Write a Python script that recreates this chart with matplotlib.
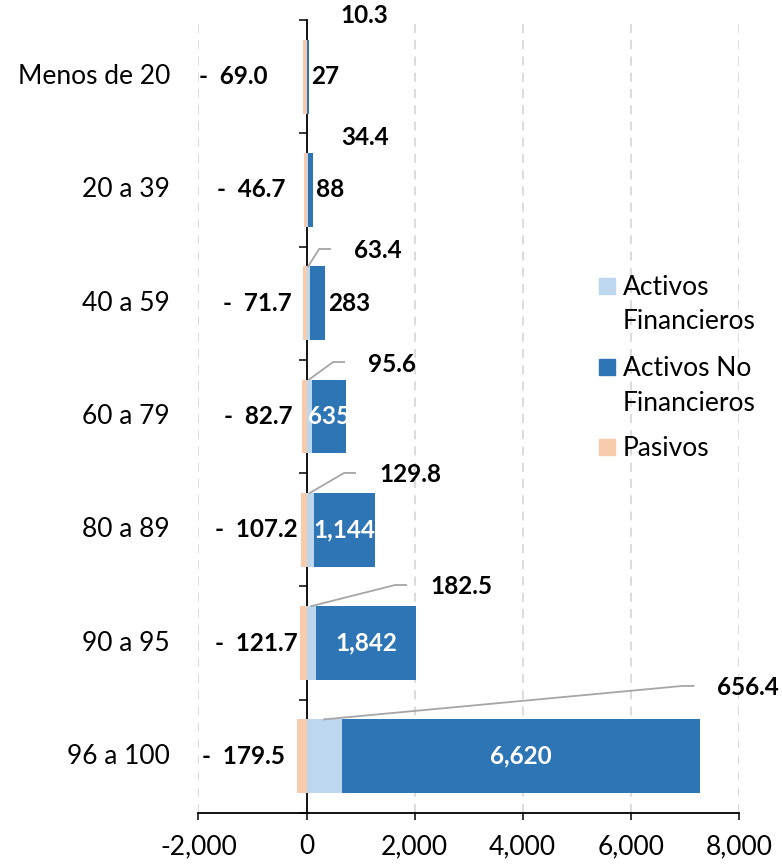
import numpy as np
import matplotlib.pyplot as plt
import matplotlib.transforms as mtransforms
from matplotlib.patches import Rectangle

plt.rcParams['font.family'] = ['Lato', 'DejaVu Sans']

# datos
categorias = ["Menos de 20", "20 a 39", "40 a 59", "60 a 79", "80 a 89", "90 a 95", "96 a 100"]
act_fin = [10.3, 34.4, 63.4, 95.6, 129.8, 182.5, 656.4]
act_nofin = [27, 88, 283, 635, 1144, 1842, 6620]
pasivos = [-69.0, -46.7, -71.7, -82.7, -107.2, -121.7, -179.5]
xticks = [-2000, 0, 2000, 4000, 6000, 8000]
series = ["Activos\nFinancieros", "Activos No\nFinancieros", "Pasivos"]

# posiciones de las etiquetas (como en excel)
fin_lab_x = [620, 639, 880, 1139, 1343, 2287, 7602]
fin_lab_dy = [-0.544, -0.467, -0.461, -0.463, -0.484, -0.495, -0.604]
con_linea = [False, False, True, True, True, True, True]
pas_lab_x = [-731, -380, -269, -250, -157, -157, -398]

c_fin = '#BDD7EE'
c_nofin = '#2E75B6'
c_pas = '#F8CBAD'
alto = 0.653
fs = 19
fsb = 17.5

fig = plt.figure(figsize=(7.82, 8.64), dpi=100)
ax = fig.add_axes([198.4/782, 1-813/864, (739-198.4)/782, (813-20)/864])

y = np.arange(len(categorias))
fin = np.array(act_fin)
nofin = np.array(act_nofin)
pas = np.array(pasivos)

ax.barh(y, fin, height=alto, color=c_fin, zorder=3)
ax.barh(y, nofin, left=fin, height=alto, color=c_nofin, zorder=3)
ax.barh(y, pas, height=alto, color=c_pas, zorder=3)

ax.set_xlim(-2000, 8000)
ax.set_ylim(len(categorias)-0.5, -0.5)

ax.set_xticks(xticks)
ax.set_xticklabels([f"{v:,}" for v in xticks], fontsize=fs)
ax.set_yticks(np.arange(len(categorias)+1) - 0.5)
ax.set_yticklabels([])
ax.tick_params(axis='x', direction='out', length=5, width=1.1, pad=10, color='black')
ax.tick_params(axis='y', direction='out', length=6, width=1.1, color='black')

for s in ['top', 'right']:
    ax.spines[s].set_visible(False)
ax.spines['left'].set_position(('data', 0))
ax.spines['left'].set_linewidth(1.3)
ax.spines['bottom'].set_linewidth(1.3)

for v in xticks:
    if v != 0:
        ax.axvline(v, color='#D9D9D9', lw=1.3, ls=(0, (5, 4)), zorder=0)

# categorias
trans = mtransforms.blended_transform_factory(ax.transAxes, ax.transData)
for i, c in enumerate(categorias):
    ax.text(-0.0525, i, c, transform=trans, ha='right', va='center', fontsize=fs)

# pixeles por unidad
p0 = ax.transData.transform((0, 0))
p1 = ax.transData.transform((1, 1))
px_x = p1[0] - p0[0]
px_y = abs(p1[1] - p0[1])

# etiquetas activos financieros con lineas guia
for i, v in enumerate(act_fin):
    lx = fin_lab_x[i]
    ly = i + fin_lab_dy[i]
    ax.text(lx, ly, f"{v:.1f}", ha='left', va='center', fontsize=fsb,
            fontweight='bold', clip_on=False, zorder=5)
    if con_linea[i]:
        xe = lx - 24/px_x
        xc = xe - 11/px_x
        yl = ly - 2/px_y
        ax.plot([v/2, xc, xe], [i - alto/2, yl, yl], color='#A6A6A6', lw=1.3,
                zorder=4, clip_on=False)

# etiquetas activos no financieros
for i, v in enumerate(act_nofin):
    if v < 500:
        ax.text(fin[i] + v + 3/px_x, i, f"{v:,}", ha='left', va='center',
                fontsize=fsb, fontweight='bold', zorder=5)
    else:
        ax.text(fin[i] + v/2, i, f"{v:,}", ha='center', va='center',
                fontsize=fsb, fontweight='bold', color='white', zorder=5)

# etiquetas pasivos
for i, v in enumerate(pasivos):
    ax.text(pas_lab_x[i], i, f"-  {abs(v):.1f}", ha='right', va='center',
            fontsize=fsb, fontweight='bold', zorder=5)

# leyenda manual
colores = [c_fin, c_nofin, c_pas]
leg_y = [[295, 329], [376, 411], [456]]
for k, lab in enumerate(series):
    lineas = lab.split("\n")
    yb = leg_y[k]
    yc = yb[0] - 9
    fig.patches.append(Rectangle((599/782, 1-(yc+8)/864), 16/782, 16/864,
                                 transform=fig.transFigure, color=colores[k]))
    for j, t in enumerate(lineas):
        fig.text(623/782, 1-yb[j]/864, t, ha='left', va='baseline', fontsize=fs)

fig.savefig('out.png', dpi=100)
